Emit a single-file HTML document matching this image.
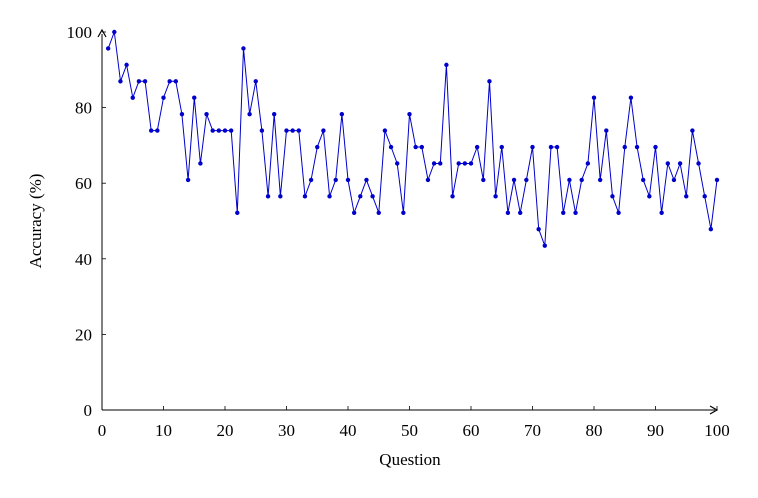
<!DOCTYPE html>
<html><head><meta charset="utf-8"><style>
html,body{margin:0;padding:0;background:#fff;}
svg text{font-family:"Liberation Serif",serif;font-size:17px;fill:#000;}
</style></head><body>
<svg id="s" width="758" height="493" xmlns="http://www.w3.org/2000/svg">
<g id="axes" stroke="#000" stroke-width="1" fill="none">
<line x1="102" y1="410" x2="715" y2="410"/>
<line x1="102" y1="410" x2="102" y2="34"/>
<path d="M710,406 L717,410 L710,414" stroke-width="1.2"/>
<path d="M98,37 L102,30 L106,37" stroke-width="1.2"/>
</g>
<g id="ticks" stroke="#000" stroke-width="0.8"></g>
<g id="lbl"></g>
<text x="410" y="465" text-anchor="middle">Question</text>
<text transform="translate(41,221) rotate(-90)" text-anchor="middle">Accuracy (%)</text>
<polyline id="pl" fill="none" stroke="#0000cc" stroke-width="1"/>
<g id="pts" fill="#0000cc"></g>
</svg>
<script>
var k=[22,23,20,21,19,20,20,17,17,19,20,20,18,14,19,15,18,17,17,17,17,12,22,18,20,17,13,18,13,17,17,17,13,14,16,17,13,14,18,14,12,13,14,13,12,17,16,15,12,18,16,16,14,15,15,21,13,15,15,15,16,14,20,13,16,12,14,12,14,16,11,10,16,16,12,14,12,14,15,19,14,17,13,12,16,19,16,14,13,16,12,15,14,15,13,17,15,13,11,14];
var X=function(v){return 102+v*6.15},Y=function(v){return 410-v*3.78};
var ns="http://www.w3.org/2000/svg",pts=[],g=document.getElementById('pts');
k.forEach(function(c,i){var x=X(i+1),y=Y(c/23*100);pts.push(x.toFixed(1)+","+y.toFixed(1));
var e=document.createElementNS(ns,'circle');e.setAttribute('cx',x);e.setAttribute('cy',y);e.setAttribute('r',2.2);g.appendChild(e);});
document.getElementById('pl').setAttribute('points',pts.join(' '));
var t=document.getElementById('ticks'),l=document.getElementById('lbl');
for(var v=0;v<=100;v+=10){var x=X(v);var e=document.createElementNS(ns,'line');e.setAttribute('x1',x);e.setAttribute('x2',x);e.setAttribute('y1',410);e.setAttribute('y2',406);t.appendChild(e);
var s=document.createElementNS(ns,'text');s.setAttribute('x',x);s.setAttribute('y',436);s.setAttribute('text-anchor','middle');s.textContent=v;l.appendChild(s);}
for(var v=0;v<=100;v+=20){var y=Y(v);var e=document.createElementNS(ns,'line');e.setAttribute('x1',102);e.setAttribute('x2',106);e.setAttribute('y1',y);e.setAttribute('y2',y);t.appendChild(e);
var s=document.createElementNS(ns,'text');s.setAttribute('x',92);s.setAttribute('y',y+6);s.setAttribute('text-anchor','end');s.textContent=v;l.appendChild(s);}
</script>
</body></html>
